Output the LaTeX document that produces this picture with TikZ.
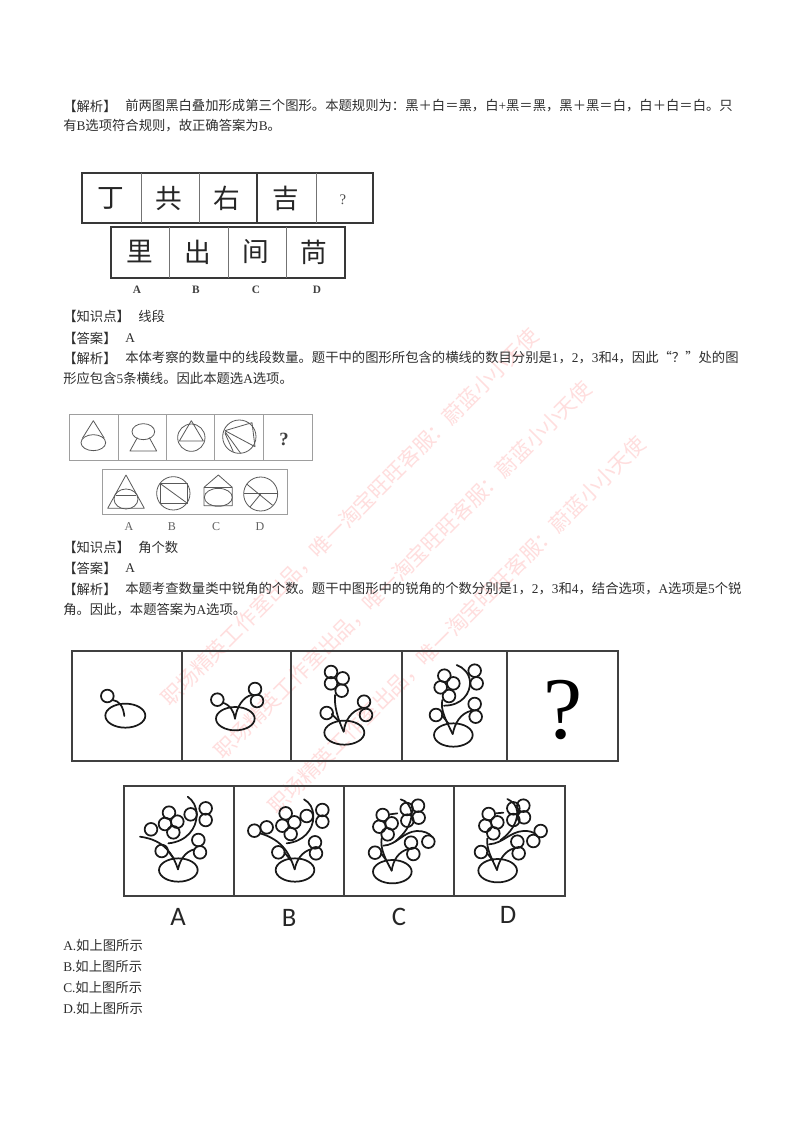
\documentclass[tikz,border=0pt]{standalone}
\usepackage{fontspec}
\setmainfont{Liberation Serif}
\newfontfamily\cjk{Noto Sans CJK SC}
\newfontfamily\lat{Liberation Serif}
\newfontfamily\cali{Carlito}
\newcommand\la[1]{{\lat #1}}
\tikzset{
  txt/.style={anchor=west,inner sep=0pt,text=black!82,font=\cjk\fontsize{10}{12}\selectfont},
  mark wm/.style={anchor=center,inner sep=0pt,rotate=45,text=red!13,font=\cjk\fontsize{15.7}{18}\selectfont},
  boxa/.style={draw=black!78,line width=1pt,line join=miter},
  boxai/.style={draw=black!55,line width=0.6pt},
  boxb/.style={draw=black!38,line width=0.6pt},
  geom/.style={draw=black!65,line width=0.6pt,line join=round},
  boxc/.style={draw=black!75,line width=1.2pt},
  plant/.style={draw=black!90,line width=1.3pt,line cap=round,line join=round},
  zoomone/.style={x=0.25pt,y=-0.25pt},
  glyphone/.style={inner sep=0pt,text=black!85,font=\cjk\fontsize{20}{22}\selectfont},
  lblone/.style={inner sep=0pt,text=black!75,font=\fontsize{8.5}{10}\selectfont\bfseries},
  lbltwo/.style={inner sep=0pt,text=black!62,font=\fontsize{9}{10}\selectfont},
  lblthree/.style={inner sep=0pt,text=black!85,font=\cali\fontsize{20}{22}\selectfont},
}
\newcommand\balls[1]{\foreach \p in {#1}{\draw[plant] \p circle[radius=19];}}
\begin{document}
\begin{tikzpicture}[x=0.75pt,y=-0.75pt]
\useasboundingbox (0,0) rectangle (800,1131);
\fill[white] (0,0) rectangle (800,1131);

% watermark
\node[mark wm] (w1) at (350,517) {职场精英工作室出品，唯一淘宝旺旺客服：蔚蓝小小天使};
\node[mark wm] (w2) at (403,570) {职场精英工作室出品，唯一淘宝旺旺客服：蔚蓝小小天使};
\node[mark wm] (w3) at (457,625) {职场精英工作室出品，唯一淘宝旺旺客服：蔚蓝小小天使};

% text block 1
\node[txt] (a1) at (63,106) {【解析】};
\node[txt] (a2) at (125,106) {前两图黑白叠加形成第三个图形。本题规则为：黑＋白＝黑，白\la{+}黑＝黑，黑＋黑＝白，白＋白＝白。只};
\node[txt] (a3) at (63,126) {有\la{B}选项符合规则，故正确答案为\la{B}。};

% figure 1
\draw[boxa] (82,173) rectangle (373,223);
\draw[boxai] (141,173) -- (141,223) (199,173) -- (199,223) (316,173) -- (316,223);
\draw[boxa] (257,173) -- (257,223);
\draw[boxa] (111,227) rectangle (345,278);
\draw[boxai] (169,227) -- (169,278) (228,227) -- (228,278) (286,227) -- (286,278);
\node[glyphone] (g1) at (111,198) {丁};
\node[glyphone] (g2) at (169,198) {共};
\node[glyphone] (g3) at (227,198) {右};
\node[glyphone] (g4) at (286,198) {吉};
\node[inner sep=0pt,text=black!70,font=\fontsize{11}{12}\selectfont] (g5) at (343,200) {?};
\node[glyphone] (g6) at (140,252) {里};
\node[glyphone] (g7) at (198,252) {出};
\node[glyphone] (g8) at (256,252) {间};
\node[glyphone] (g9) at (314,252) {苘};
\node[lblone] (l1) at (137,290) {A};
\node[lblone] (l2) at (196,290) {B};
\node[lblone] (l3) at (256,290) {C};
\node[lblone] (l4) at (317,290) {D};

% text block 2
\node[txt] (b1) at (63,316) {【知识点】};
\node[txt] (b2) at (138,316) {线段};
\node[txt] (b3) at (63,338) {【答案】};
\node[txt] (b4) at (125,338) {\la{A}};
\node[txt] (b5) at (63,358) {【解析】};
\node[txt] (b6) at (125,358) {本体考察的数量中的线段数量。题干中的图形所包含的横线的数目分别是\la{1}，\la{2}，\la{3}和\la{4}，因此“？”处的图};
\node[txt] (b7) at (63,378) {形应包含\la{5}条横线。因此本题选\la{A}选项。};

% figure 2
\draw[boxb] (69,414) rectangle (312,460);
\draw[boxb] (118,414) -- (118,460) (166,414) -- (166,460) (214,414) -- (214,460) (263,414) -- (263,460);
\draw[boxb] (102,469) rectangle (287,514);
\begin{scope}[shift={(50,400)},zoomone]
  % cone
  \draw[geom] (130,128) ellipse (37 and 24);
  \draw[geom] (97,115) -- (130,62) -- (163,115);
  % ball and trapezoid
  \draw[geom] (280,95) ellipse (34 and 24);
  \draw[geom] (262,113) -- (240,153) -- (320,153) -- (298,113);
  % circle and triangle
  \draw[geom] (424,113) circle[radius=41];
  \draw[geom] (424,62) -- (388,123) -- (460,123) -- cycle;
  % circle with fan
  \draw[geom] (568,110) circle[radius=50];
  \draw[geom] (525,92) -- (606,68) -- (615,140) -- cycle;
  \draw[geom] (525,95) -- (572,160) (525,100) -- (550,155);
  % A
  \draw[geom] (228,225) -- (173,325) -- (283,325) -- cycle;
  \draw[geom] (228,297) ellipse (36 and 30);
  \draw[geom] (198,287) -- (258,287);
  % B
  \draw[geom] (370,280) circle[radius=50];
  \draw[geom] (331,251) rectangle (411,309);
  \draw[geom] (331,251) -- (411,309);
  % C
  \draw[geom] (462,262) -- (505,225) -- (547,262) -- (547,317) -- (462,317) -- cycle;
  \draw[geom] (462,262) -- (547,262);
  \draw[geom] (505,292) ellipse (42 and 27);
  % D
  \draw[geom] (632,282) circle[radius=51];
  \draw[geom] (582,280) -- (683,280);
  \draw[geom] (590,252) -- (668,316);
  \draw[geom] (632,282) -- (600,321);
\end{scope}
\node[inner sep=0pt,text=black!75,font=\fontsize{14}{15}\selectfont\bfseries] (q2) at (284,439) {?};
\node[lbltwo] (m1) at (129,527) {A};
\node[lbltwo] (m2) at (172,527) {B};
\node[lbltwo] (m3) at (216,527) {C};
\node[lbltwo] (m4) at (260,527) {D};

% text block 3
\node[txt] (c1) at (63,547) {【知识点】};
\node[txt] (c2) at (138,547) {角个数};
\node[txt] (c3) at (63,568) {【答案】};
\node[txt] (c4) at (125,568) {\la{A}};
\node[txt] (c5) at (63,589) {【解析】};
\node[txt] (c6) at (125,589) {本题考查数量类中锐角的个数。题干中图形中的锐角的个数分别是\la{1}，\la{2}，\la{3}和\la{4}，结合选项，\la{A}选项是\la{5}个锐};
\node[txt] (c7) at (63,610) {角。因此，本题答案为\la{A}选项。};

% figure 3, top row
\draw[boxc] (72,651) rectangle (618,761);
\draw[boxc] (182,651) -- (182,761) (291,651) -- (291,761) (402,651) -- (402,761) (507,651) -- (507,761);
\begin{scope}[shift={(60,640)},zoomone]
  % panel 1
  \draw[plant] (196,227) ellipse (60 and 36);
  \draw[plant] (193,228) .. controls (190,200) and (178,182) .. (158,180);
  \balls{(142,168)}
  % panel 2
  \draw[plant] (526,236) ellipse (58 and 35);
  \draw[plant] (525,236) .. controls (520,210) and (510,195) .. (488,188);
  \draw[plant] (525,236) .. controls (530,200) and (550,170) .. (575,165);
  \balls{(472,179),(585,147),(591,183)}
  % panel 3
  \draw[plant] (853,278) ellipse (60 and 36);
  \draw[plant] (851,275) .. controls (835,240) and (822,200) .. (825,165);
  \draw[plant] (851,275) .. controls (855,240) and (875,212) .. (905,205);
  \draw[plant] (815,222) -- (836,243);
  \balls{(813,96),(848,115),(813,130),(845,152),(800,219),(912,185),(918,225)}
\end{scope}
\begin{scope}[shift={(380,640)},zoomone]
  % panel 4
  \draw[plant] (220,285) ellipse (58 and 35);
  \draw[plant] (218,282) .. controls (200,245) and (180,210) .. (187,180);
  \draw[plant] (218,282) .. controls (225,250) and (240,220) .. (275,212);
  \draw[plant] (185,225) -- (205,250);
  \draw[plant] (192,197) .. controls (245,197) and (272,160) .. (270,125) .. controls (268,100) and (250,82) .. (230,75);
  \balls{(193,107),(220,130),(182,142),(207,168),(168,225),(284,192),(287,230),(284,92),(290,130)}
\end{scope}
\node[inner sep=0pt,text=black,font=\fontsize{66}{66}\selectfont] (q3) at (563,710) {?};

% figure 3, options
\draw[boxc] (124,786) rectangle (565,896);
\draw[boxc] (234,786) -- (234,896) (344,786) -- (344,896) (454,786) -- (454,896);
\begin{scope}[shift={(115,780)},zoomone]
  % A
  \draw[plant] (190,270) ellipse (58 and 35);
  \draw[plant] (189,268) .. controls (175,225) and (150,180) .. (75,170);
  \draw[plant] (189,268) .. controls (195,240) and (210,215) .. (238,208);
  \draw[plant] (158,212) -- (176,235);
  \draw[plant] (160,190) .. controls (215,185) and (245,145) .. (245,105) .. controls (245,80) and (235,62) .. (218,50);
  \balls{(162,98),(187,125),(150,132),(175,157),(140,213),(250,180),(255,217),(272,85),(272,120),(227,103),(108,148)}
  % B
  \draw[plant] (540,270) ellipse (58 and 35);
  \draw[plant] (539,268) .. controls (525,225) and (505,180) .. (435,160);
  \draw[plant] (539,268) .. controls (545,240) and (560,215) .. (590,207);
  \draw[plant] (508,217) -- (527,240);
  \draw[plant] (515,190) .. controls (565,185) and (595,150) .. (595,110) .. controls (595,85) and (585,68) .. (567,58);
  \balls{(512,100),(538,127),(502,137),(527,162),(490,217),(600,187),(603,220),(622,90),(622,125),(575,108),(418,152),(455,142)}
\end{scope}
\begin{scope}[shift={(340,780)},zoomone]
  % C
  \draw[plant] (157,275) ellipse (58 and 35);
  \draw[plant] (155,272) .. controls (135,235) and (120,205) .. (125,175);
  \draw[plant] (155,272) .. controls (160,240) and (175,215) .. (205,207);
  \draw[plant] (123,220) -- (142,245);
  \draw[plant] (130,197) .. controls (170,195) and (190,155) .. (230,153) .. controls (250,152) and (270,160) .. (275,170);
  \draw[plant] (165,185) .. controls (190,165) and (215,135) .. (215,100) .. controls (213,80) and (200,62) .. (182,58);
  \draw[plant] (150,103) -- (172,100);
  \balls{(128,105),(155,130),(118,140),(143,163),(105,218),(213,188),(220,222),(265,185),(200,87),(234,77),(202,122),(236,113)}
  % D
  \draw[plant] (473,272) ellipse (58 and 35);
  \draw[plant] (471,270) .. controls (455,235) and (438,205) .. (442,175);
  \draw[plant] (471,270) .. controls (477,240) and (495,212) .. (522,205);
  \draw[plant] (440,218) -- (460,243);
  \draw[plant] (447,193) .. controls (490,190) and (510,155) .. (550,153) .. controls (565,152) and (580,155) .. (590,165);
  \draw[plant] (482,180) .. controls (510,160) and (532,130) .. (532,97) .. controls (530,78) and (520,65) .. (502,57);
  \draw[plant] (468,100) -- (490,98);
  \balls{(446,102),(472,127),(436,137),(460,160),(423,216),(532,185),(536,220),(602,153),(580,183),(520,85),(550,77),(520,120),(552,112)}
\end{scope}
\node[lblthree] (o1) at (178,917) {A};
\node[lblthree] (o2) at (289,918) {B};
\node[lblthree] (o3) at (399,917) {C};
\node[lblthree] (o4) at (508,915) {D};

% answers
\node[txt] (d1) at (63,945) {\la{A.}如上图所示};
\node[txt] (d2) at (63,966) {\la{B.}如上图所示};
\node[txt] (d3) at (63,987) {\la{C.}如上图所示};
\node[txt] (d4) at (63,1008) {\la{D.}如上图所示};
\end{tikzpicture}
\end{document}
